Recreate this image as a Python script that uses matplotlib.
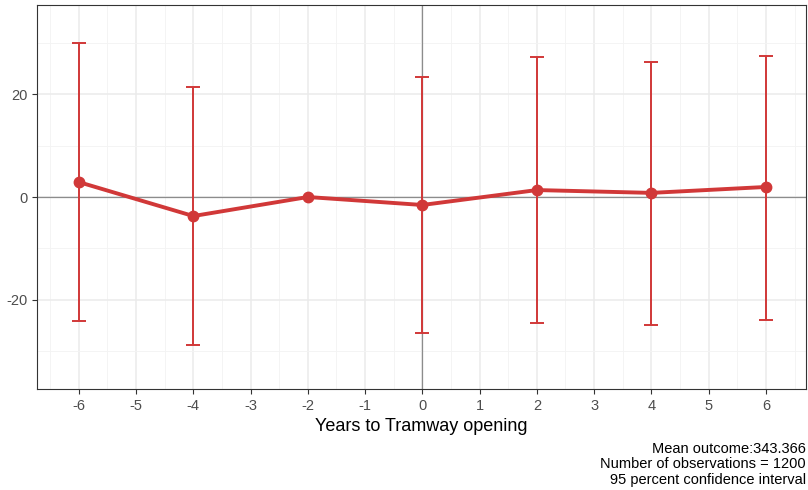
import numpy as np
import matplotlib
matplotlib.use("Agg")
import matplotlib.pyplot as plt
from matplotlib.ticker import MultipleLocator

plt.rcParams['font.family'] = ['Liberation Sans', 'DejaVu Sans']
plt.rcParams['axes.unicode_minus'] = False

# Event-study estimates
years = [-6, -4, -2, 0, 2, 4, 6]
estimate = [2.9, -3.7, 0.0, -1.55, 1.35, 0.8, 1.95]
ci_low = [-24.1, -28.7, 0.0, -26.4, -24.5, -24.9, -23.9]
ci_high = [29.9, 21.4, 0.0, 23.3, 27.2, 26.2, 27.4]

xtick_vals = list(range(-6, 7))
caption = "Mean outcome:343.366\nNumber of observations = 1200\n95 percent confidence interval"

red = '#D13838'

fig = plt.figure(figsize=(8.08, 4.90), dpi=100)
ax = fig.add_axes([0.0458, 0.2061, 0.9517, 0.7837])

# grid (ggplot theme_bw style)
ax.set_axisbelow(True)
ax.xaxis.set_minor_locator(MultipleLocator(0.5))
ax.yaxis.set_minor_locator(MultipleLocator(10))
ax.grid(which='major', color='#EBEBEB', linewidth=1.1)
ax.grid(which='minor', color='#F3F3F3', linewidth=0.6)
ax.tick_params(which='minor', length=0)

ax.axhline(0, color='#8C8C8C', linewidth=0.9, zorder=1)
ax.axvline(0, color='#8C8C8C', linewidth=0.9, zorder=1)

est = np.array(estimate)
yerr = np.array([est - np.array(ci_low), np.array(ci_high) - est])
has_ci = np.array(ci_high) != np.array(ci_low)
ax.errorbar(np.array(years)[has_ci], est[has_ci], yerr=yerr[:, has_ci], fmt='none',
            ecolor=red, elinewidth=1.4, capsize=5, capthick=1.4, zorder=2)
ax.plot(years, estimate, color=red, linewidth=2.8, marker='o', markersize=7.5,
        zorder=3, solid_capstyle='round')

ax.set_xlim(-6.73, 6.70)
ax.set_ylim(-37.3, 37.3)
ax.set_xticks(xtick_vals)
ax.set_xticklabels([str(v) for v in xtick_vals])
ax.set_yticks([-20, 0, 20])
ax.tick_params(which='major', colors='#333333', labelcolor='#4D4D4D',
               labelsize=10.5, length=3.5, width=0.8)

for s in ax.spines.values():
    s.set_color('#333333')
    s.set_linewidth(0.8)

ax.set_xlabel('Years to Tramway opening', fontsize=13, color='black', labelpad=4)

fig.text(0.9975, 0.007, caption, ha='right', va='bottom', fontsize=10.5,
         linespacing=1.12)

fig.savefig('out.png', dpi=100)
